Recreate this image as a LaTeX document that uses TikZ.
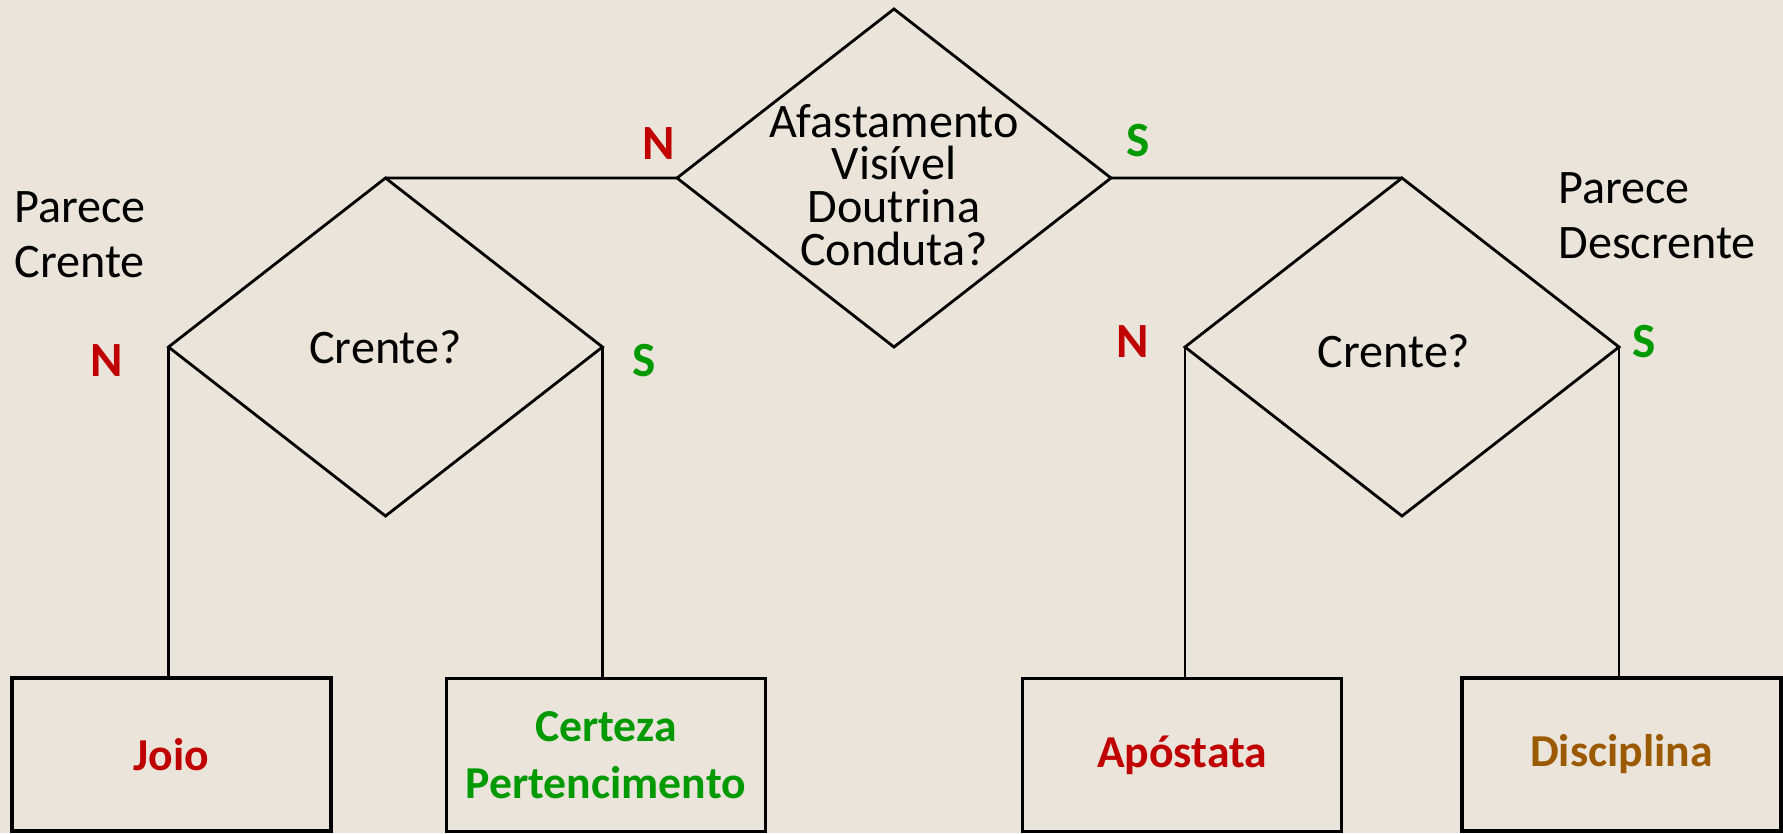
\documentclass[tikz,border=0pt]{standalone}
\usepackage{fontspec}
\setmainfont{Carlito}
\usetikzlibrary{shapes.geometric,positioning}
\definecolor{nred}{HTML}{C00000}
\definecolor{sgreen}{HTML}{009A00}
\definecolor{dbrown}{HTML}{9C5A00}
\definecolor{marble}{HTML}{EAE4DA}

\begin{document}
\begin{tikzpicture}[
  font=\fontsize{13.7}{15.6}\selectfont,
  decision/.style={draw, thick, diamond, inner sep=0pt, outer sep=0pt, minimum width=4.34cm, minimum height=3.38cm},
  outcome/.style={draw, line width=1.1pt, minimum width=3.19cm, minimum height=1.53cm, align=center, font=\fontsize{13}{16.2}\selectfont\bfseries},
  nlabel/.style={text=nred, font=\fontsize{14}{16}\selectfont\bfseries},
  slabel/.style={text=sgreen, font=\fontsize{14}{16}\selectfont\bfseries}
]
\fill [marble] (0,0) rectangle (17.83,-8.33);
\useasboundingbox (0,0) rectangle (17.83,-8.33);

% decisions
\node[decision] (top) at (8.94,-1.78) {};
\node[decision] (ld) at (3.855,-3.47) {};
\node[decision] (rd) at (14.02,-3.47) {};

\node[align=center, font=\fontsize{13.7}{12.2}\selectfont] (topq) at ([yshift=-0.07cm]top.center) {Afastamento\\Visível\\Doutrina\\Conduta?};
\node (lq) at (ld.center) {Crente?};
\node (rq) at ([xshift=-0.08cm,yshift=-0.04cm]rd.center) {Crente?};

% outcomes
\node[outcome, text=nred] (joio) at (1.715,-7.545) {Joio};
\node[outcome, text=sgreen] (cert) at (6.06,-7.55) {Certeza\\Pertencimento};
\node[outcome, text=nred] (apos) at (11.82,-7.55) {Apóstata};
\node[outcome, text=dbrown] (disc) at (16.215,-7.545) {Disciplina};

% connectors
\draw [thick] (ld.north) -- (top.west);
\draw [thick] (top.east) -- (rd.north);
\draw [thick] (ld.west) -- (ld.west |- joio.north);
\draw [thick] (ld.east) -- (ld.east |- cert.north);
\draw [thick] (rd.west) -- (rd.west |- apos.north);
\draw [thick] (rd.east) -- (rd.east |- disc.north);

% answers
\node[nlabel] (topn) at ([xshift=-0.18cm,yshift=0.34cm]top.west) {N};
\node[slabel] (tops) at ([xshift=0.27cm,yshift=0.37cm]top.east) {S};
\node[nlabel] (ldn) at ([xshift=-0.62cm,yshift=-0.14cm]ld.west) {N};
\node[slabel] (lds) at ([xshift=0.42cm,yshift=-0.14cm]ld.east) {S};
\node[nlabel] (rdn) at ([xshift=-0.52cm,yshift=0.05cm]rd.west) {N};
\node[slabel] (rds) at ([xshift=0.25cm,yshift=0.05cm]rd.east) {S};

\node[align=left, anchor=west] (pcrente) at (0.02,-2.345) {Parece\\Crente};
\node[align=left, anchor=west] (pdescrente) at (15.46,-2.16) {Parece\\Descrente};

\end{tikzpicture}
\end{document}
